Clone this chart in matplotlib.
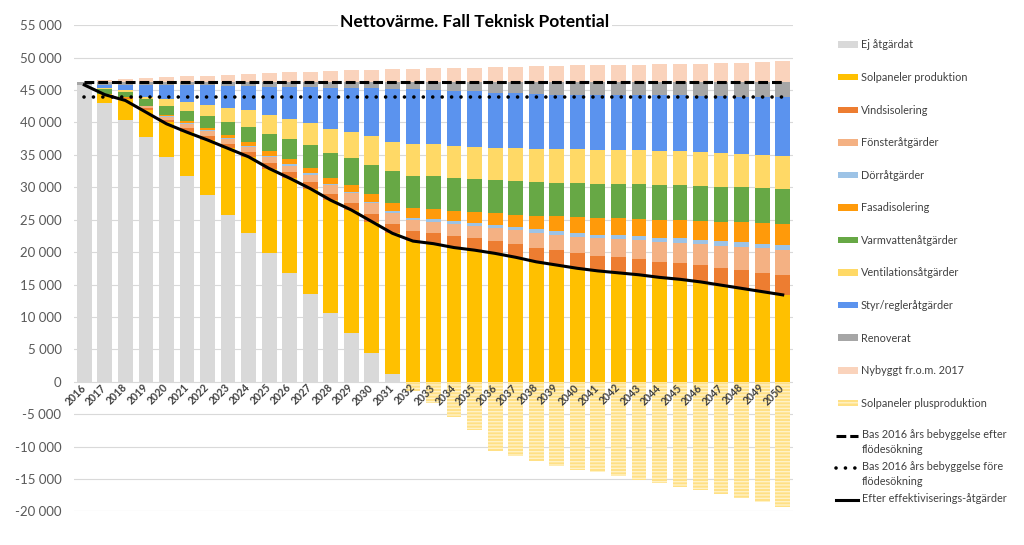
import matplotlib.pyplot as plt
import numpy as np
from matplotlib.patches import Patch
from matplotlib.lines import Line2D
from matplotlib.ticker import FuncFormatter, MultipleLocator

plt.rcParams['font.family'] = ['Lato', 'DejaVu Sans']

#%% data
years = list(range(2016, 2051))

ej_atgardat = [45800, 43000, 40350, 37700, 34700, 31700, 28800, 25800, 22900, 19800, 16700, 13600,
               10550, 7450, 4400, 1200, 0, 0, 0, 0, 0, 0, 0, 0, 0, 0, 0, 0, 0, 0, 0, 0, 0, 0, 0]
sol_produktion = [0, 1400, 3300, 4300, 5400, 6800, 8500, 10200, 11800, 13100, 14700, 16200, 17450,
                  19050, 20300, 21700, 21700, 21300, 20700, 20300, 19800, 19200, 18500, 18000, 17500,
                  17100, 16800, 16500, 16100, 15800, 15400, 14900, 14400, 13900, 13400]
vindsisolering = [0, 0, 100, 200, 300, 600, 650, 700, 770, 900, 950, 1000, 1000, 1100, 1250, 1450,
                  1550, 1700, 1800, 1850, 1950, 2050, 2200, 2250, 2300, 2350, 2380, 2400, 2440, 2470,
                  2550, 2650, 2800, 2950, 3080]
fonster = [0, 0, 100, 300, 500, 700, 750, 800, 800, 900, 1000, 1150, 1300, 1500, 1600, 1650,
           1650, 1700, 1800, 1850, 1950, 2100, 2300, 2450, 2570, 2700, 2800, 2900, 3050, 3180,
           3300, 3450, 3600, 3750, 3850]
dorr = [0, 0, 0, 0, 50, 100, 100, 100, 120, 150, 200, 220, 250, 250, 250, 300,
        400, 400, 450, 450, 500, 500, 500, 520, 530, 560, 590, 620, 650, 670, 680, 690, 700, 700, 700]
fasad = [0, 0, 100, 100, 250, 350, 400, 500, 600, 700, 770, 820, 870, 1000, 1150, 1300,
         1450, 1500, 1600, 1700, 1800, 1950, 2100, 2350, 2560, 2620, 2680, 2740, 2790, 2830,
         2900, 3000, 3100, 3200, 3330]
varmvatten = [0, 800, 700, 1000, 1300, 1500, 1800, 2000, 2300, 2700, 3080, 3500, 3900, 4200, 4550, 4850,
              5050, 5100, 5100, 5150, 5150, 5150, 5150, 5150, 5150, 5200, 5250, 5300, 5350, 5400,
              5400, 5400, 5400, 5400, 5400]
ventilation = [0, 200, 300, 400, 1100, 1400, 1700, 2100, 2570, 2850, 3090, 3400, 3700, 4050, 4400, 4600,
               4900, 5000, 5000, 4950, 4950, 5050, 5100, 5150, 5250, 5250, 5250, 5250, 5280, 5300,
               5250, 5200, 5150, 5150, 5130]
styr = [0, 400, 900, 1800, 2200, 2600, 3050, 3500, 3700, 4400, 4990, 5550, 6380, 6750, 7370, 8150,
        8400, 8300, 8450, 8550, 8500, 8500, 8550, 8450, 8380, 8450, 8500, 8540, 8590, 8590,
        8650, 8750, 8850, 8950, 9110]
renoverat = [500, 500, 450, 500, 500, 550, 550, 600, 740, 800, 820, 860, 900, 950, 1030, 1100,
             1200, 1300, 1400, 1500, 1700, 1800, 1900, 1980, 2060, 2070, 2050, 2050, 2050, 2060,
             2170, 2260, 2300, 2300, 2300]
nybyggt = [0, 200, 350, 500, 700, 800, 950, 1100, 1250, 1350, 1450, 1550, 1650, 1750, 1850, 1900,
           2000, 2050, 2100, 2150, 2200, 2300, 2400, 2450, 2500, 2550, 2600, 2650, 2700, 2750,
           2800, 2900, 2950, 3050, 3150]
sol_plus = [0, 0, 0, 0, 0, 0, 0, 0, 0, 0, 0, 0, 0, 0, 0, 0,
            -1500, -3300, -5500, -7500, -10700, -11500, -12200, -13000, -13600, -14000, -14500,
            -15100, -15600, -16300, -16700, -17400, -17900, -18600, -19300]

bas_efter = 46300
bas_fore = 44000
efter_effektivisering = [45800, 44300, 43400, 41600, 39800, 38500, 37300, 36000, 34700, 32900, 31400,
                         29800, 28000, 26500, 24700, 22900, 21700, 21300, 20700, 20300, 19800, 19200,
                         18500, 18000, 17500, 17100, 16800, 16500, 16100, 15800, 15400, 14900, 14400,
                         13900, 13400]

stack = [
    ("Ej åtgärdat", ej_atgardat, "#D9D9D9"),
    ("Solpaneler produktion", sol_produktion, "#FFC000"),
    ("Vindsisolering", vindsisolering, "#ED7D31"),
    ("Fönsteråtgärder", fonster, "#F4B183"),
    ("Dörråtgärder", dorr, "#9DC3E6"),
    ("Fasadisolering", fasad, "#FF9A0A"),
    ("Varmvattenåtgärder", varmvatten, "#67A845"),
    ("Ventilationsåtgärder", ventilation, "#FFD966"),
    ("Styr/regleråtgärder", styr, "#5B93EE"),
    ("Renoverat", renoverat, "#A6A6A6"),
    ("Nybyggt fr.o.m. 2017", nybyggt, "#FAD3BC"),
]
plus_col = "#FFE085"
plus_hatch_col = "#FFF2C6"
txt_col = "#404040"

#%% plot
fig = plt.figure(figsize=(10.24, 5.45), dpi=100)
ax = fig.add_axes([74 / 1024, 1 - 511.3 / 545, (793 - 74) / 1024, (511.3 - 25.3) / 545])

x = np.arange(len(years))
w = 0.72
bottom = np.zeros(len(years))
for name, vals, col in stack:
    vals = np.array(vals, dtype=float)
    ax.bar(x, vals, w, bottom=bottom, color=col, lw=0, zorder=2)
    bottom += vals

ax.bar(x, sol_plus, w, color=plus_col, edgecolor=plus_hatch_col, hatch='-----', lw=0, zorder=2)

dash_ls = (0, (3.2, 1.3))
dot_ls = (0, (0.01, 2.6))
ax.plot([x[0], x[-1]], [bas_efter, bas_efter], color='black', lw=2.2, ls=dash_ls, zorder=4)
ax.plot([x[0], x[-1]], [bas_fore, bas_fore], color='black', lw=2.6, ls=dot_ls,
        dash_capstyle='round', zorder=4)
ax.plot(x, efter_effektivisering, color='black', lw=2.2, zorder=4)

ax.set_xlim(-0.5, len(years) - 0.5)
ax.set_ylim(-20000, 55000)
ax.yaxis.set_major_locator(MultipleLocator(5000))
ax.yaxis.set_major_formatter(FuncFormatter(lambda v, p: f"{v:,.0f}".replace(",", " ")))
ax.grid(axis='y', color='#D9D9D9', lw=0.8)
ax.set_axisbelow(True)
ax.xaxis.set_zorder(5)
for s in ax.spines.values():
    s.set_visible(False)
ax.spines['bottom'].set_position(('data', 0))

ax.set_xticks(x, [str(y) for y in years], rotation=45, ha='right', va='center',
              rotation_mode='anchor', fontsize=7.6, color=txt_col, fontweight='bold')
ax.tick_params(axis='x', length=0, pad=3)
ax.tick_params(axis='y', length=0, pad=9, labelsize=9.5, labelcolor='#595959')

fig.text(475 / 1024, 1 - 22 / 545, "Nettovärme. Fall Teknisk Potential", ha='center', va='center',
         fontsize=12.5, fontweight='bold', color='black',
         bbox=dict(fc='white', ec='none', pad=2))

#%% legend - bars
handles = [Patch(fc=col, ec='none') for _, _, col in stack]
handles.append(Patch(fc=plus_col, ec=plus_hatch_col, hatch='---', lw=0))
labels = [n for n, _, _ in stack] + ["Solpaneler plusproduktion"]
fig.legend(handles, labels, loc='upper left', bbox_to_anchor=(838 / 1024, 1 - 39.5 / 545),
           frameon=False, fontsize=7.8, labelspacing=1.99, handlelength=1.85,
           handleheight=0.55, handletextpad=0.25, borderpad=0, borderaxespad=0,
           labelcolor=txt_col)

#%% legend - lines (drawn by hand for the two-line labels)
def px(xp, yp):
    return xp / 1024, 1 - yp / 545

line_leg = [
    ("Bas 2016 års bebyggelse efter\nflödesökning", dict(lw=2.2, ls=dash_ls), 436),
    ("Bas 2016 års bebyggelse före\nflödesökning", dict(lw=2.6, ls=dot_ls, dash_capstyle='round'), 468),
    ("Efter effektiviserings-åtgärder", dict(lw=2.2), 500),
]
for lab, kw, yp in line_leg:
    x0, y0 = px(836, yp)
    x1, _ = px(858, yp)
    fig.add_artist(Line2D([x0, x1], [y0, y0], color='black', transform=fig.transFigure, **kw))
    tx, ty = px(862, yp - 7)
    fig.text(tx, ty, lab, ha='left', va='top', fontsize=7.8, color=txt_col, linespacing=1.4)

fig.savefig("out.png", dpi=100)
